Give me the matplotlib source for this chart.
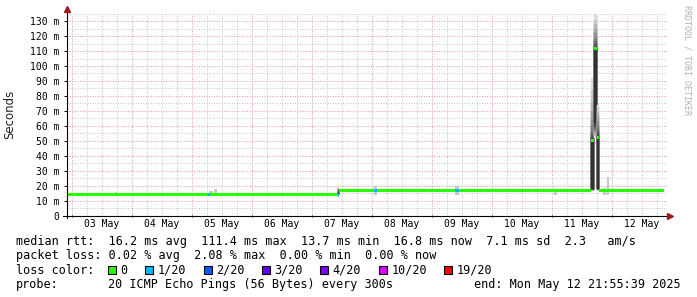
import matplotlib
matplotlib.use('Agg')
import matplotlib.pyplot as plt
from matplotlib.ticker import MultipleLocator

# time axis: days since 03 May 2025 00:00
T_START = -0.0864   # 02 May 21:55:39
T_END = 9.9136      # 12 May 21:55:39
DATA_END = 9.865

day_labels = ['03 May', '04 May', '05 May', '06 May', '07 May',
              '08 May', '09 May', '10 May', '11 May', '12 May']

# median rtt (ms); each value holds until the next start
med_start = [-0.0864, 1.09, 1.18, 1.34, 1.37, 1.45, 1.51, 1.78, 1.95,
             2.27, 2.31, 2.76, 2.81, 2.86, 3.01, 3.08, 3.11,
             4.43, 4.455, 4.58, 4.62, 4.68, 4.71, 5.03, 5.09, 5.19,
             5.26, 5.38, 5.43, 6.39, 6.45, 6.85, 6.90, 7.20, 7.25,
             7.55, 7.60, 7.90, 7.96, 8.30, 8.35, 8.53, 8.61,
             8.655, 8.700, 8.747, 8.792, 9.13, 9.16, 9.27, 9.29,
             9.48, 9.53, 9.65, 9.70]
med_rtt = [14.2, 13.8, 14.2, 13.8, 14.2, 13.8, 14.2, 13.8, 14.2,
           14.2, 14.2, 13.8, 14.2, 13.8, 14.2, 13.8, 14.2,
           13.6, 17.0, 16.4, 17.0, 16.4, 17.0, 17.0, 17.0, 16.4,
           17.0, 16.4, 17.0, 17.0, 17.0, 16.4, 17.0, 16.4, 17.0,
           16.4, 17.0, 16.4, 17.0, 16.4, 17.0, 16.4, 17.0,
           50.5, 111.4, 52.5, 17.0, 16.4, 17.0, 16.4, 17.0,
           16.4, 17.0, 16.4, 17.0]
# lost pings out of 20 for each median segment
med_loss = [0, 0, 0, 0, 0, 0, 0, 0, 0,
            1, 0, 0, 0, 0, 0, 0, 0,
            1, 0, 0, 0, 0, 0, 1, 0, 0,
            0, 0, 0, 1, 0, 0, 0, 0, 0,
            0, 0, 0, 0, 0, 0, 0, 0,
            0, 0, 0, 0, 0, 0, 0, 0,
            0, 0, 0, 0]

# samples with real smoke: 20 sorted ping times (ms)
smoke_start = [4.43, 8.655, 8.700, 8.747]
smoke_end = [4.448, 8.700, 8.747, 8.792]
smoke_pings = [
    [13.6, 13.7, 13.8, 13.9, 14.0, 14.0, 14.1, 14.2, 14.3, 14.5,
     14.8, 15.5, 16.2, 16.8, 17.2, 17.5, 17.8, 18.0, 18.3, 18.6],
    [16.8, 16.9, 17.0, 17.0, 17.1, 17.2, 17.3, 17.5, 17.6, 17.8,
     50.5, 52.0, 54.0, 56.0, 60.0, 64.0, 70.0, 76.0, 84.0, 92.0],
    [52.0, 53.0, 54.0, 55.0, 56.0, 57.0, 58.0, 59.0, 60.0, 62.0,
     111.4, 113.0, 115.0, 117.0, 119.0, 122.0, 125.0, 128.0, 131.0, 134.7],
    [16.9, 17.0, 17.1, 17.2, 17.3, 17.4, 17.5, 17.6, 17.7, 17.8,
     52.5, 54.0, 56.0, 58.0, 60.0, 63.0, 66.0, 69.0, 72.0, 74.0],
]

# faint smoke just above the median line
haze_start = [0.72, 2.29, 2.37, 5.03, 6.39, 8.04, 8.86, 8.92]
haze_end = [0.76, 2.35, 2.42, 5.09, 6.45, 8.08, 8.90, 8.96]
haze_top = [15.8, 16.6, 17.8, 19.7, 19.7, 18.0, 18.6, 25.5]

loss_steps = [0, 1, 2, 3, 4, 10, 19]
loss_labels = ['0', '1/20', '2/20', '3/20', '4/20', '10/20', '19/20']
loss_colors = ['#26ff00', '#00b8ff', '#0059ff', '#5e00ff', '#7e00ff',
               '#dd00ff', '#ff0000']

rtt_stats = ['16.2 ms avg', '111.4 ms max', '13.7 ms min', '16.8 ms now',
             '7.1 ms sd']
am_per_s = '2.3'
loss_stats = ['0.02 % avg', '2.08 % max', '0.00 % min', '0.00 % now']
probe_text = '20 ICMP Echo Pings (56 Bytes) every 300s'
end_text = 'end: Mon May 12 21:55:39 2025'

W, H = 697, 297
MONO = 'DejaVu Sans Mono'


def fx(x):
    return x / W


def fy(y):
    return 1 - y / H


def loss_color(n):
    idx = 0
    for i, step in enumerate(loss_steps):
        if n >= step:
            idx = i
    return loss_colors[idx]


fig = plt.figure(figsize=(W / 100, H / 100), dpi=100)
fig.patch.set_facecolor('white')

ax_left, ax_bottom, ax_right, ax_top = 66.7, 215.5, 666.7, 13.7
ax = fig.add_axes([fx(ax_left), fy(ax_bottom),
                   (ax_right - ax_left) / W, (ax_bottom - ax_top) / H])
ax.set_xlim(T_START, T_END)
ax.set_ylim(0, 135)
for side in ax.spines.values():
    side.set_visible(False)

# grid: red at midnight / every 10 m, grey every 6 h / 5 m
dots = (0, (1.0, 1.6))
ax.xaxis.set_major_locator(MultipleLocator(1))
ax.xaxis.set_minor_locator(MultipleLocator(0.25))
ax.yaxis.set_major_locator(MultipleLocator(10))
ax.yaxis.set_minor_locator(MultipleLocator(5))
ax.grid(which='minor', color='#c4c4c4', linestyle=dots, linewidth=0.7)
ax.grid(which='major', color='#e39a9a', linestyle=dots, linewidth=0.7)
ax.set_axisbelow(True)

yt = list(range(0, 140, 10))
ax.set_yticks(yt)
ax.set_yticklabels(['0' if v == 0 else f'{v} m' for v in yt],
                   fontfamily=MONO, fontsize=7)
ax.tick_params(axis='y', which='major', length=2.2, width=0.7, pad=3,
               color='black')
ax.tick_params(axis='both', which='minor', length=0)
ax.tick_params(axis='x', which='major', length=2, width=0.7,
               labelbottom=False, direction='inout')

# faint smoke
for t0, t1, top in zip(haze_start, haze_end, haze_top):
    ax.fill_between([t0, t1], [14, 14], [top, top], color='#c8c8c8',
                    linewidth=0)

# smoke from sorted pings, darker toward the middle pair
for t0, t1, pings in zip(smoke_start, smoke_end, smoke_pings):
    half = len(pings) // 2
    for k in range(1, half + 1):
        shade = int(190 / half * (half - k)) + 50
        col = '#%02x%02x%02x' % (shade, shade, shade)
        lo, hi = pings[k - 1], pings[len(pings) - k]
        ax.fill_between([t0, t1], [lo, lo], [hi, hi], color=col,
                        linewidth=0.3, edgecolor=col)

# median band coloured by loss
ends = med_start[1:] + [DATA_END]
for t0, t1, v, n in zip(med_start, ends, med_rtt, med_loss):
    ax.fill_between([t0, t1], [v - 1.0, v - 1.0], [v + 1.0, v + 1.0],
                    color=loss_color(n), linewidth=0)

# axis lines with arrows
axis_red = '#a01818'
ax.plot([0, 0], [-0.013, 1.02], transform=ax.transAxes, color='black',
        linewidth=0.8, clip_on=False)
ax.plot([-0.006, 1.004], [0, 0], transform=ax.transAxes, color='black',
        linewidth=0.8, clip_on=False)
ax.plot([0], [1.025], transform=ax.transAxes, marker='^', markersize=4,
        color=axis_red, clip_on=False)
ax.plot([1.006], [0], transform=ax.transAxes, marker='>', markersize=4,
        color=axis_red, clip_on=False)

for i, lab in enumerate(day_labels):
    ax.text(i + 0.5, -0.042, lab, transform=ax.get_xaxis_transform(),
            ha='center', va='center', fontfamily=MONO, fontsize=7)

fig.text(fx(10), fy(114), 'Seconds', rotation=90, ha='center', va='center',
         fontsize=8.5, color='#222222')
fig.text(fx(686.5), fy(5), 'RRDTOOL / TOBI OETIKER', rotation=270,
         ha='center', va='top', fontfamily=MONO, fontsize=6, color='#b0b0b0')

# legend block
CH = 7.1
lx = 16
rows = [241, 255.5, 270, 284.5]
line1 = 'median rtt:  ' + '  '.join(rtt_stats) + f'  {am_per_s}   am/s'
line2 = 'packet loss: ' + '  '.join(loss_stats)
for txt, y in [(line1, rows[0]), (line2, rows[1])]:
    fig.text(fx(lx), fy(y), txt, ha='left', va='center', fontfamily=MONO,
             fontsize=8.5)

fig.text(fx(lx), fy(rows[2]), 'loss color:', ha='left', va='center',
         fontfamily=MONO, fontsize=8.5)
bx = 108
for lab, col in zip(loss_labels, loss_colors):
    fig.patches.append(plt.Rectangle((fx(bx), fy(rows[2] + 4.2)), 8 / W,
                                     8.4 / H, transform=fig.transFigure,
                                     facecolor=col, edgecolor='black',
                                     linewidth=0.8))
    fig.text(fx(bx + 12.5), fy(rows[2]), lab, ha='left', va='center',
             fontfamily=MONO, fontsize=8.5)
    bx += 12.5 + len(lab) * CH + 17.5

fig.text(fx(lx), fy(rows[3]), 'probe:', ha='left', va='center',
         fontfamily=MONO, fontsize=8.5)
fig.text(fx(lx + 13 * CH), fy(rows[3]), probe_text, ha='left', va='center',
         fontfamily=MONO, fontsize=8.5)
fig.text(fx(681), fy(rows[3]), end_text, ha='right', va='center',
         fontfamily=MONO, fontsize=8.5)

fig.savefig('out.png', dpi=100, facecolor='white')
